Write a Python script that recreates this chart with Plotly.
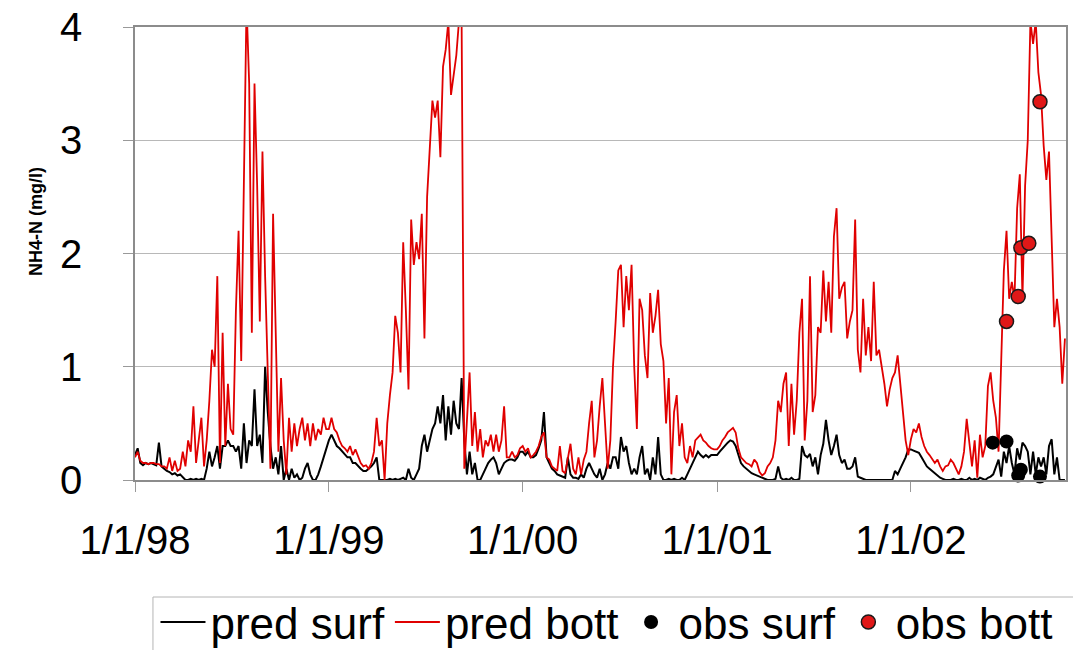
import pandas as pd
import plotly.graph_objects as go

# ---- data (5-day samples) ----
red_1998 = [0.20,0.25,0.17,0.15,0.15,0.14,0.15,0.15,0.14,0.14,
            0.12,0.12,0.10,0.20,0.08,0.17,0.08,0.10,0.25,0.12,
            0.35,0.25,0.65,0.15,0.35,0.55,0.12,0.35,0.70,1.15,
            1.00,1.80,0.15,1.30,0.30,0.85,0.45,0.40,1.50,2.20,
            1.05,2.65,4.20,3.50,1.30,3.50,2.60,1.40,2.90,1.80,
            0.90,0.10,2.35,1.40,0.25,0.90,0.35,0.05,0.55,0.25,
            0.50,0.30,0.45,0.55,0.35,0.50,0.30,0.50,0.35,0.45,
            0.40,0.55,0.45]
black_1998 = [0.22,0.28,0.15,0.13,0.15,0.14,0.15,0.14,0.13,0.33,
              0.12,0.10,0.08,0.07,0.05,0.06,0.04,0.05,0.02,0.00,
              0.00,0.01,0.00,0.01,0.00,0.01,0.00,0.10,0.25,0.12,
              0.20,0.30,0.10,0.30,0.30,0.35,0.30,0.30,0.25,0.30,
              0.10,0.50,0.15,0.35,0.30,0.80,0.30,0.40,0.15,1.00,
              0.60,0.30,0.10,0.20,0.05,0.30,0.00,0.10,0.00,0.10,
              0.02,0.05,0.00,0.02,0.10,0.15,0.05,0.00,0.00,0.05,
              0.12,0.20,0.28]
red_1999 = [0.45,0.55,0.45,0.42,0.35,0.30,0.28,0.25,0.30,0.22,
            0.27,0.20,0.15,0.12,0.13,0.10,0.15,0.25,0.55,0.30,
            0.35,0.00,0.50,0.75,0.95,1.45,1.30,0.95,2.10,1.50,
            0.80,2.30,1.90,2.10,1.95,2.35,1.25,2.50,2.90,3.35,
            3.20,3.35,2.85,3.65,3.80,4.05,3.40,3.60,3.75,4.05,
            4.05,0.10,0.50,0.95,0.30,0.60,0.25,0.45,0.20,0.35,
            0.30,0.40,0.25,0.40,0.25,0.35,0.65,0.20,0.20,0.25,
            0.20,0.22,0.28]
black_1999 = [0.35,0.40,0.35,0.30,0.28,0.25,0.22,0.20,0.20,0.15,
              0.15,0.12,0.10,0.08,0.08,0.10,0.12,0.15,0.20,0.00,
              0.00,0.00,0.00,0.01,0.00,0.01,0.00,0.01,0.02,0.00,
              0.10,0.02,0.00,0.05,0.10,0.30,0.40,0.25,0.35,0.45,
              0.50,0.65,0.50,0.75,0.35,0.65,0.40,0.70,0.50,0.45,
              0.90,0.35,0.05,0.25,0.05,0.15,0.00,0.00,0.05,0.10,
              0.15,0.18,0.20,0.15,0.05,0.10,0.15,0.17,0.18,0.18,
              0.17,0.20,0.25]
red_2000 = [0.30,0.25,0.28,0.20,0.22,0.25,0.30,0.38,0.42,0.20,
            0.18,0.12,0.10,0.08,0.30,0.08,0.06,0.20,0.32,0.10,
            0.05,0.20,0.05,0.18,0.25,0.50,0.70,0.20,0.35,0.65,
            0.90,0.50,0.10,0.35,1.00,1.40,1.85,1.90,1.35,1.80,
            1.50,1.90,1.00,0.45,1.60,1.50,1.10,0.90,1.65,1.30,
            1.45,1.68,1.20,1.05,0.50,0.90,0.05,0.60,0.75,0.30,
            0.50,0.20,0.15,0.30,0.20,0.35,0.38,0.40,0.35,0.33,
            0.30,0.28,0.27]
black_2000 = [0.25,0.22,0.25,0.20,0.20,0.22,0.28,0.35,0.60,0.20,
              0.15,0.10,0.08,0.05,0.04,0.03,0.02,0.20,0.05,0.02,
              0.02,0.01,0.05,0.02,0.10,0.15,0.10,0.05,0.02,0.10,
              0.00,0.05,0.15,0.10,0.20,0.20,0.10,0.38,0.25,0.30,
              0.15,0.05,0.10,0.05,0.20,0.30,0.05,0.10,0.00,0.20,
              0.05,0.38,0.05,0.00,0.00,0.01,0.00,0.01,0.00,0.00,
              0.02,0.00,0.05,0.10,0.15,0.20,0.25,0.22,0.20,0.22,
              0.20,0.22,0.22]
red_2001 = [0.27,0.30,0.35,0.38,0.42,0.44,0.46,0.42,0.28,0.20,
            0.17,0.15,0.14,0.12,0.18,0.15,0.07,0.04,0.06,0.12,
            0.15,0.20,0.35,0.70,0.60,0.85,0.95,0.30,0.85,0.40,
            0.70,1.30,1.60,0.35,0.70,1.80,0.60,0.75,1.35,1.30,
            1.85,1.40,1.75,1.30,2.15,2.40,1.60,1.70,1.75,1.25,
            1.40,1.50,2.30,1.15,0.95,1.60,1.10,1.35,1.05,1.75,
            1.10,1.15,1.00,0.85,0.65,0.80,0.90,0.95,1.10,0.85,
            0.65,0.35,0.22]
black_2001 = [0.22,0.25,0.28,0.30,0.33,0.35,0.34,0.30,0.22,0.15,
              0.12,0.10,0.08,0.06,0.05,0.04,0.03,0.02,0.01,0.00,
              0.00,0.00,0.01,0.12,0.02,0.00,0.01,0.00,0.02,0.00,
              0.00,0.01,0.30,0.22,0.20,0.23,0.12,0.20,0.05,0.22,
              0.32,0.53,0.35,0.22,0.30,0.40,0.22,0.15,0.18,0.10,
              0.10,0.12,0.20,0.03,0.02,0.01,0.00,0.00,0.00,0.00,
              0.00,0.00,0.00,0.00,0.00,0.00,0.00,0.08,0.05,0.10,
              0.15,0.20,0.27]
red_2002 = [0.36,0.45,0.42,0.50,0.38,0.30,0.25,0.22,0.18,0.15,
            0.18,0.12,0.08,0.12,0.13,0.18,0.15,0.10,0.05,0.12,
            0.25,0.54,0.30,0.12,0.35,0.02,0.40,0.20,0.30,0.83,
            0.95,0.70,0.55,0.25,1.05,1.85,2.20,1.60,1.75,1.60,
            2.40,2.70,1.60,2.60,3.00,4.05,3.85,4.05,3.60,3.40,
            2.95,2.65,2.90,2.10,1.35,1.60,1.35,0.85,1.25]
black_2002 = [0.27,0.26,0.25,0.24,0.20,0.16,0.12,0.10,0.08,0.06,
              0.04,0.02,0.01,0.00,0.00,0.00,0.01,0.00,0.00,0.01,
              0.00,0.00,0.02,0.00,0.01,0.00,0.02,0.01,0.00,0.02,
              0.03,0.05,0.12,0.18,0.03,0.25,0.15,0.30,0.15,0.05,
              0.28,0.18,0.33,0.30,0.25,0.05,0.25,0.05,0.20,0.12,
              0.20,0.05,0.30,0.36,0.05,0.20,0.00,0.00,0.00]

obs_surf_dates = ["2002-06-04", "2002-06-30", "2002-07-22", "2002-07-27", "2002-09-01"]
obs_surf_vals = [0.33, 0.34, 0.04, 0.09, 0.03]
obs_bott_dates = ["2002-06-30", "2002-07-22", "2002-07-27", "2002-08-11", "2002-09-01"]
obs_bott_vals = [1.40, 1.62, 2.05, 2.09, 3.34]

tick_dates = ["1998-01-01", "1999-01-01", "2000-01-01", "2001-01-01", "2002-01-01"]
tick_labels = ["1/1/98", "1/1/99", "1/1/00", "1/1/01", "1/1/02"]
y_ticks = [0, 1, 2, 3, 4]
y_title = "NH4-N (mg/l)"

years = [1998, 1999, 2000, 2001, 2002]
red_by_year = [red_1998, red_1999, red_2000, red_2001, red_2002]
black_by_year = [black_1998, black_1999, black_2000, black_2001, black_2002]


def build(series_by_year):
    xs, ys = [], []
    for yr, vals in zip(years, series_by_year):
        d = pd.date_range(f"{yr}-01-01", periods=len(vals), freq="5D")
        xs.extend(d)
        ys.extend(vals)
    return xs, ys


bx, by = build(black_by_year)
rx, ry = build(red_by_year)

FONT = "Liberation Sans, Arial, sans-serif"

fig = go.Figure()
fig.add_trace(go.Scatter(x=bx, y=by, mode="lines", name="pred surf",
                         line=dict(color="#000000", width=2)))
fig.add_trace(go.Scatter(x=rx, y=ry, mode="lines", name="pred bott",
                         line=dict(color="#e00000", width=1.8)))
fig.add_trace(go.Scatter(x=obs_surf_dates, y=obs_surf_vals, mode="markers", name="obs surf",
                         marker=dict(color="#000000", size=14), cliponaxis=False))
fig.add_trace(go.Scatter(x=obs_bott_dates, y=obs_bott_vals, mode="markers", name="obs bott",
                         marker=dict(color="#e01818", size=14, line=dict(color="#1a1a1a", width=1.5))))

fig.update_layout(
    width=1073, height=650,
    margin=dict(l=135, r=7, t=27, b=170, autoexpand=False),
    paper_bgcolor="white", plot_bgcolor="white",
    font=dict(family=FONT, color="black"),
    showlegend=True,
    legend=dict(orientation="h", x=0.022, y=-0.236, xanchor="left", yanchor="top",
                font=dict(size=44, family=FONT, color="black"),
                borderwidth=0, bgcolor="rgba(0,0,0,0)",
                itemwidth=45, tracegroupgap=0),
    shapes=[dict(type="rect", xref="paper", yref="paper",
                 x0=0.0193, x1=1.05, y0=-0.2583, y1=-0.45,
                 line=dict(color="#b4b4b4", width=1), fillcolor="rgba(0,0,0,0)",
                 layer="below")],
    annotations=[dict(text="<b>" + y_title + "</b>", textangle=-90,
                      xref="paper", yref="paper", x=-0.1063, y=0.5695,
                      xanchor="center", yanchor="middle", showarrow=False,
                      font=dict(size=18, family=FONT, color="black"))],
)
fig.update_xaxes(
    type="date", range=["1998-01-01", "2002-10-20"],
    tickvals=tick_dates, ticktext=tick_labels,
    tickfont=dict(size=40, family=FONT, color="black"),
    ticks="outside", ticklen=10, tickcolor="#999999", tickwidth=1,
    showgrid=False, zeroline=False,
    showline=True, linecolor="#8c8c8c", linewidth=1.5, mirror=True,
    ticklabelstandoff=14, automargin=False,
)
fig.update_yaxes(
    range=[0, 4], tickvals=y_ticks,
    tickfont=dict(size=40, family=FONT, color="black"),
    ticks="outside", ticklen=10, tickcolor="#999999", tickwidth=1,
    showgrid=True, gridcolor="#b8b8b8", gridwidth=1, zeroline=False,
    showline=True, linecolor="#8c8c8c", linewidth=1.5, mirror=True,
    ticklabelstandoff=33, automargin=False,
)

fig.write_html("out.html", config={"displayModeBar": False},
               post_script="document.body.style.margin='0px';")
